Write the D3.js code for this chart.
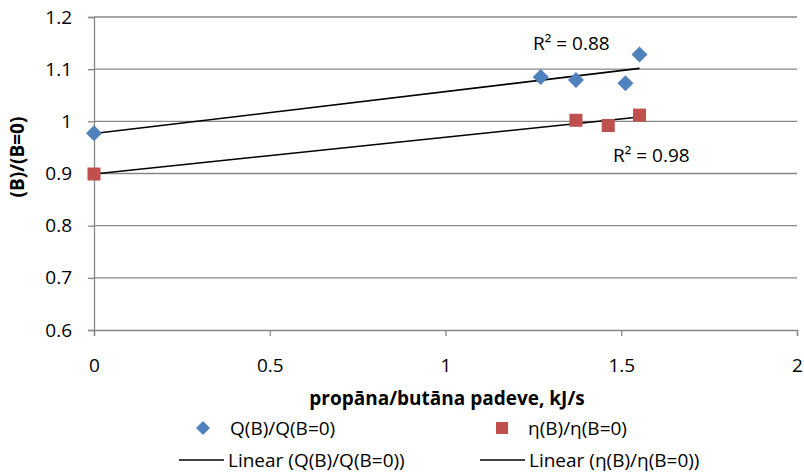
<!DOCTYPE html>
<html>
<head>
<meta charset="utf-8">
<script src="https://cdn.jsdelivr.net/npm/d3@7"></script>
<style>
  body { margin: 0; background: #fff; }
  svg { display: block; font-family: "Open Sans", Lato, sans-serif; }
</style>
</head>
<body>
<svg id="chart" width="804" height="472"></svg>
<script>
// Measured points: heat-output ratio and efficiency ratio vs propane/butane supply
const qX = [0, 1.271, 1.371, 1.512, 1.552];
const qY = [0.977, 1.085, 1.079, 1.073, 1.128];
const etaX = [0, 1.371, 1.463, 1.552];
const etaY = [0.899, 1.002, 0.992, 1.012];

const xTicks = [0, 0.5, 1, 1.5, 2];
const yTicks = [0.6, 0.7, 0.8, 0.9, 1, 1.1, 1.2];

const seriesNames = ["Q(B)/Q(B=0)", "η(B)/η(B=0)"];
const xTitle = "propāna/butāna padeve, kJ/s";
const yTitle = "(B)/(B=0)";

const FONT = "'Open Sans', Lato, sans-serif";
const FS = 19;
const svg = d3.select("#chart");
const x = d3.scaleLinear().domain([0, 2]).range([94, 797]);
const y = d3.scaleLinear().domain([0.6, 1.2]).range([330, 17]);
const gridColor = "#878787";

// least-squares fit with coefficient of determination
function fit(xs, ys) {
  const mx = d3.mean(xs), my = d3.mean(ys);
  let sxy = 0, sxx = 0, syy = 0;
  xs.forEach((v, i) => {
    sxy += (v - mx) * (ys[i] - my);
    sxx += (v - mx) ** 2;
    syy += (ys[i] - my) ** 2;
  });
  const slope = sxy / sxx;
  return { slope, intercept: my - slope * mx, r2: (sxy * sxy) / (sxx * syy),
           x0: d3.min(xs), x1: d3.max(xs) };
}

// horizontal gridlines
svg.append("g").selectAll("line").data(yTicks.slice(1)).join("line")
  .attr("x1", x(0)).attr("x2", x(2))
  .attr("y1", d => y(d)).attr("y2", d => y(d))
  .attr("stroke", gridColor).attr("stroke-width", 1.3);

// axes
const yAxis = svg.append("g").attr("transform", `translate(${x(0)},0)`)
  .call(d3.axisLeft(y).tickValues(yTicks).tickFormat(d3.format("~g")).tickSize(6).tickPadding(16));
const xAxis = svg.append("g").attr("transform", `translate(0,${y(0.6)})`)
  .call(d3.axisBottom(x).tickValues(xTicks).tickFormat(d3.format("~g")).tickSize(6).tickPadding(23));
[yAxis, xAxis].forEach(a => {
  a.select(".domain").attr("stroke", gridColor).attr("stroke-width", 1.3);
  a.selectAll(".tick line").attr("stroke", gridColor).attr("stroke-width", 1.3);
  a.selectAll("text").attr("fill", "#000").style("font-size", FS + "px")
    .style("font-family", FONT);
});

// trendlines
const fits = [fit(qX, qY), fit(etaX, etaY)];
svg.append("g").selectAll("line").data(fits).join("line")
  .attr("x1", f => x(f.x0)).attr("y1", f => y(f.intercept + f.slope * f.x0))
  .attr("x2", f => x(f.x1)).attr("y2", f => y(f.intercept + f.slope * f.x1))
  .attr("stroke", "#000").attr("stroke-width", 1.6);

// markers
function diamondPath(cx, cy, r) {
  return `M${cx},${cy - r}L${cx + r},${cy}L${cx},${cy + r}L${cx - r},${cy}Z`;
}
svg.append("g").selectAll("path").data(qX.map((v, i) => [v, qY[i]])).join("path")
  .attr("d", d => diamondPath(x(d[0]), y(d[1]), 8))
  .attr("fill", "#4F81BD");
svg.append("g").selectAll("rect").data(etaX.map((v, i) => [v, etaY[i]])).join("rect")
  .attr("x", d => x(d[0]) - 6.5).attr("y", d => y(d[1]) - 6.5)
  .attr("width", 13).attr("height", 13)
  .attr("fill", "#C0504D");

// R² annotations
const fmt2 = d3.format(".2f");
function r2Label(px, py, r2) {
  svg.append("text").attr("x", px).attr("y", py).style("font-size", FS + "px")
    .text(`R² = ${fmt2(r2)}`);
}
r2Label(533, 50, fits[0].r2);
r2Label(613, 162, fits[1].r2);

// axis titles
svg.append("text").attr("x", 447).attr("y", 405).attr("text-anchor", "middle")
  .style("font-size", FS + "px").style("font-weight", "bold").text(xTitle);
svg.append("text").attr("transform", "translate(24,157) rotate(-90)")
  .attr("text-anchor", "middle").style("font-size", FS + "px").style("font-weight", "bold")
  .text(yTitle);

// legend
const leg = svg.append("g").style("font-size", FS + "px");
leg.append("path").attr("d", diamondPath(203, 428, 7)).attr("fill", "#4F81BD");
leg.append("text").attr("x", 230).attr("y", 435).text(seriesNames[0]);
leg.append("rect").attr("x", 496).attr("y", 422).attr("width", 12).attr("height", 12).attr("fill", "#C0504D");
leg.append("text").attr("x", 528).attr("y", 435).text(seriesNames[1]);
[[179, 224, 228, 0], [480, 525, 529, 1]].forEach(([a, b, t, i]) => {
  leg.append("line").attr("x1", a).attr("x2", b).attr("y1", 460).attr("y2", 460)
    .attr("stroke", "#000").attr("stroke-width", 1.6);
  leg.append("text").attr("x", t).attr("y", 467).text(`Linear (${seriesNames[i]})`);
});
</script>
</body>
</html>
